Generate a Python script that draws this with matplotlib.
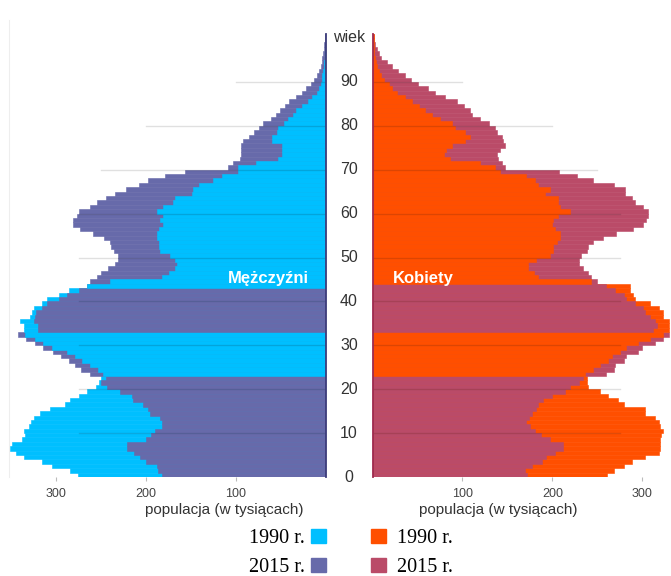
"""
Piramida wieku ludnosci Polski: 1990 vs 2015.
"""

import matplotlib
matplotlib.use("Agg")
import matplotlib.pyplot as plt
import matplotlib.transforms as mtransforms
from matplotlib.patches import Rectangle
import numpy as np

# wiek 0..100
ages = np.arange(0, 101)

# populacja w tysiacach
men_1990 = [
    276, 284, 304, 316, 336, 345, 351, 349, 338, 334,
    336, 330, 328, 325, 318, 307, 290, 284, 275, 266,
    256, 252, 250, 248, 253, 262, 271, 279, 288, 305,
    314, 323, 334, 336, 336, 340, 329, 327, 325, 316,
    310, 297, 286, 266, 240, 182, 175, 168, 166, 168,
    173, 184, 186, 186, 188, 188, 186, 181, 184, 181,
    188, 181, 170, 168, 149, 148, 141, 126, 116, 98,
    98, 78, 53, 49, 49, 49, 60, 60, 55, 53,
    47, 42, 37, 33, 27, 20, 16, 10, 8, 6,
    5, 4, 3, 2, 2, 1, 1, 0.5, 0.5, 0.5,
    0.5,
]
men_2015 = [
    182, 187, 188, 200, 207, 213, 221, 221, 200, 195,
    190, 182, 182, 184, 196, 198, 203, 214, 216, 229,
    243, 250, 245, 262, 272, 279, 286, 294, 303, 314,
    323, 333, 342, 320, 320, 325, 323, 322, 316, 310,
    297, 288, 274, 266, 262, 255, 250, 242, 234, 231,
    231, 236, 239, 240, 247, 259, 273, 281, 281, 277,
    274, 262, 255, 244, 234, 222, 208, 198, 179, 157,
    109, 103, 96, 94, 94, 94, 92, 86, 80, 75,
    70, 61, 56, 51, 46, 41, 33, 27, 22, 17,
    13, 10, 8, 6, 5, 4, 3, 2.5, 2, 1.5,
    1,
]
women_1990 = [
    261, 268, 280, 288, 303, 318, 320, 320, 320, 321,
    323, 320, 318, 314, 303, 303, 280, 273, 262, 253,
    240, 238, 238, 236, 245, 253, 262, 266, 275, 282,
    295, 308, 323, 330, 330, 330, 323, 323, 318, 308,
    292, 290, 286, 286, 243, 184, 179, 173, 173, 182,
    197, 201, 201, 205, 208, 208, 203, 199, 201, 206,
    219, 208, 206, 206, 192, 197, 184, 181, 171, 142,
    136, 120, 86, 79, 82, 88, 103, 108, 103, 92,
    88, 75, 66, 58, 52, 44, 36, 27, 22, 18,
    13, 10, 7, 5, 4, 3, 2, 2, 1.5, 1.5,
    2,
]
women_2015 = [
    172, 170, 177, 188, 193, 203, 212, 212, 197, 187,
    181, 175, 171, 174, 177, 182, 184, 190, 199, 214,
    220, 229, 234, 260, 268, 269, 279, 282, 295, 299,
    314, 323, 330, 312, 316, 314, 308, 303, 301, 292,
    282, 280, 269, 260, 249, 243, 240, 234, 229, 229,
    232, 238, 240, 245, 256, 271, 290, 301, 304, 306,
    306, 301, 292, 288, 281, 281, 268, 245, 227, 207,
    147, 144, 140, 138, 142, 147, 145, 144, 138, 136,
    130, 120, 111, 108, 102, 94, 81, 70, 62, 51,
    43, 36, 28, 22, 16, 10, 7, 4.5, 3, 2,
    2,
]

age_ticks = [0, 10, 20, 30, 40, 50, 60, 70, 80, 90]
pop_ticks = [100, 200, 300]
years = ["1990 r.", "2015 r."]

C_M90 = "#00BFFF"
C_M15 = "#676AAA"
C_F90 = "#FF4F00"
C_F15 = "#BA4B68"

W, H = 671, 576
PX_AGE = 4.39
Y0 = 477


def px_rect(x0, x1, y_top, y_bot):
    return [x0 / W, 1 - y_bot / H, (x1 - x0) / W, (y_bot - y_top) / H]


def draw_side(ax, old, new, c_old, c_new):
    old = np.array(old, dtype=float)
    new = np.array(new, dtype=float)
    old_big = old > new
    back = np.where(old_big, old, new)
    front = np.where(old_big, new, old)
    back_c = np.where(old_big, c_old, c_new)
    front_c = np.where(old_big, c_new, c_old)
    # wiekszy z tylu, mniejszy na wierzchu
    ax.barh(ages, back, height=1, align="edge", color=back_c,
            edgecolor=back_c, linewidth=0.4, zorder=1)
    ax.barh(ages, front, height=1, align="edge", color=front_c,
            edgecolor=front_c, linewidth=0.4, zorder=2)


grid_len = {90: 100, 80: 200, 70: 250}

fig = plt.figure(figsize=(W / 100, H / 100), dpi=100)
plt.rcParams["font.family"] = ["Liberation Sans", "DejaVu Sans"]

top_y = Y0 - 104 * PX_AGE
ax_l = fig.add_axes(px_rect(9.3, 326, top_y, Y0))
ax_r = fig.add_axes(px_rect(372.5, 671, top_y, Y0))

draw_side(ax_l, men_1990, men_2015, C_M90, C_M15)
draw_side(ax_r, women_1990, women_2015, C_F90, C_F15)

ax_l.set_xlim(352, 0)
ax_r.set_xlim(0, 331.7)
for ax in (ax_l, ax_r):
    ax.set_ylim(0, 104)
    for s in ax.spines.values():
        s.set_visible(False)
    ax.set_yticks([])
    ax.set_xticks(pop_ticks)
    ax.tick_params(axis="x", length=3, color="#BBBBBB", labelsize=9,
                   labelcolor="#444444", pad=5)
    for a in age_ticks[1:]:
        ax.plot([0, grid_len.get(a, 275)], [a, a], color="black",
                alpha=0.12, lw=1, zorder=3)

ax_l.spines["left"].set_visible(True)
ax_l.spines["left"].set_color("#EEEEEE")

ax_l.plot([0, 0], [0, 101], color="#3C3C7A", lw=1.3, zorder=4, clip_on=False)
ax_r.plot([0, 0], [0, 101], color="#9E2A4E", lw=1.3, zorder=4, clip_on=False)

ax_l.text(0.678, -0.073, "populacja (w tysiącach)", transform=ax_l.transAxes,
          ha="center", va="center", fontsize=11, color="#333333")
ax_r.text(0.42, -0.073, "populacja (w tysiącach)", transform=ax_r.transAxes,
          ha="center", va="center", fontsize=11, color="#333333")

# etykiety wieku miedzy panelami
trans = mtransforms.blended_transform_factory(ax_r.transAxes, ax_r.transData)
for a in age_ticks:
    ax_r.text(-0.079, a, str(a), transform=trans, ha="center", va="center",
              fontsize=11.5, color="#333333", clip_on=False)
ax_r.text(-0.079, 100.1, "wiek", transform=trans, ha="center", va="center",
          fontsize=11.5, color="#333333", clip_on=False)

ax_l.text(64, 44.1, "Mężczyźni", ha="center", va="baseline", fontsize=12,
          fontweight="bold", color="white", zorder=5)
ax_r.text(57, 44.1, "Kobiety", ha="center", va="baseline", fontsize=12,
          fontweight="bold", color="white", zorder=5)

# legenda
for i, (yr, cl, cr) in enumerate(zip(years, [C_M90, C_M15], [C_F90, C_F15])):
    y_box = 529 + i * 29
    fig.patches.append(Rectangle((311 / W, 1 - (y_box + 14) / H), 15 / W, 14 / H,
                                 transform=fig.transFigure, color=cl))
    fig.patches.append(Rectangle((371 / W, 1 - (y_box + 14) / H), 15 / W, 14 / H,
                                 transform=fig.transFigure, color=cr))
    fig.text(305 / W, 1 - (y_box + 14) / H, yr, ha="right", va="baseline",
             fontsize=14.5, family="Liberation Serif", color="black")
    fig.text(397 / W, 1 - (y_box + 14) / H, yr, ha="left", va="baseline",
             fontsize=14.5, family="Liberation Serif", color="black")

fig.savefig("out.png", dpi=100, facecolor="white")
